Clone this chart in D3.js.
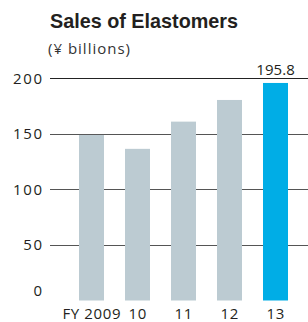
<!DOCTYPE html>
<html><head><meta charset="utf-8">
<script src="https://cdn.jsdelivr.net/npm/d3@7"></script>
<style>body{margin:0;background:#fff}svg{display:block}</style>
</head><body>
<script>
const categories = ["FY 2009", "10", "11", "12", "13"];
const sales = [149, 136.5, 161, 180.5, 195.8];
const yTicks = [0, 50, 100, 150, 200];
const highlightIndex = 4;

const W = 308, H = 322;
const svg = d3.select("body").append("svg").attr("width", W).attr("height", H);
const titleFont = "'Liberation Sans', Arial, sans-serif";
const font = "'Open Sans', 'Liberation Sans', sans-serif";

const x = d3.scaleBand().domain(categories).range([58, 309]).paddingInner(0.4565).paddingOuter(0.4565);
const y = d3.scaleLinear().domain([0, 200]).range([300.5, 78.3]);

svg.append("text").attr("x", 50).attr("y", 28).attr("font-family", titleFont)
  .attr("font-weight", "bold").attr("font-size", 19.8).attr("fill", "#231f20").text("Sales of Elastomers");
svg.append("text").attr("x", 48).attr("y", 53.5).attr("font-family", font)
  .attr("font-size", 15).attr("letter-spacing", 1.0).attr("fill", "#333").text("(¥ billions)");

// gridlines
svg.append("g").selectAll("line").data(yTicks.filter(d => d > 0)).join("line")
  .attr("x1", 50).attr("x2", W).attr("y1", d => Math.round(y(d)) + 0.5).attr("y2", d => Math.round(y(d)) + 0.5)
  .attr("stroke", d => d === 200 ? "#222" : "#555").attr("stroke-width", 1);

// y labels
const yls = 1.6;
svg.append("g").selectAll("text").data(yTicks).join("text")
  .attr("x", 42 + yls).attr("y", d => d === 0 ? 290.7 : y(d)).attr("dy", "0.35em")
  .attr("text-anchor", "end").attr("font-family", font).attr("font-size", 15).attr("letter-spacing", yls)
  .attr("fill", "#231f20")
  .text(d => d);

// bars
svg.append("g").selectAll("rect").data(sales).join("rect")
  .attr("x", (d, i) => x(categories[i])).attr("width", x.bandwidth())
  .attr("y", d => y(d)).attr("height", d => y(0) - y(d))
  .attr("fill", (d, i) => i === highlightIndex ? "#00ade6" : "#bccbd2");

// x labels
svg.append("g").selectAll("text").data(categories).join("text")
  .attr("x", d => x(d) + x.bandwidth() / 2 + 0.3).attr("y", 319)
  .attr("text-anchor", "middle").attr("font-family", font).attr("font-size", 15).attr("letter-spacing", 0.6)
  .attr("fill", "#231f20")
  .text(d => d);

// value label
svg.append("text").attr("x", x(categories[highlightIndex]) + x.bandwidth() / 2 + 0.1).attr("y", 75)
  .attr("text-anchor", "middle").attr("font-family", font).attr("font-size", 15).attr("letter-spacing", 0.1)
  .attr("fill", "#231f20")
  .text(sales[highlightIndex]);
</script>
</body></html>
